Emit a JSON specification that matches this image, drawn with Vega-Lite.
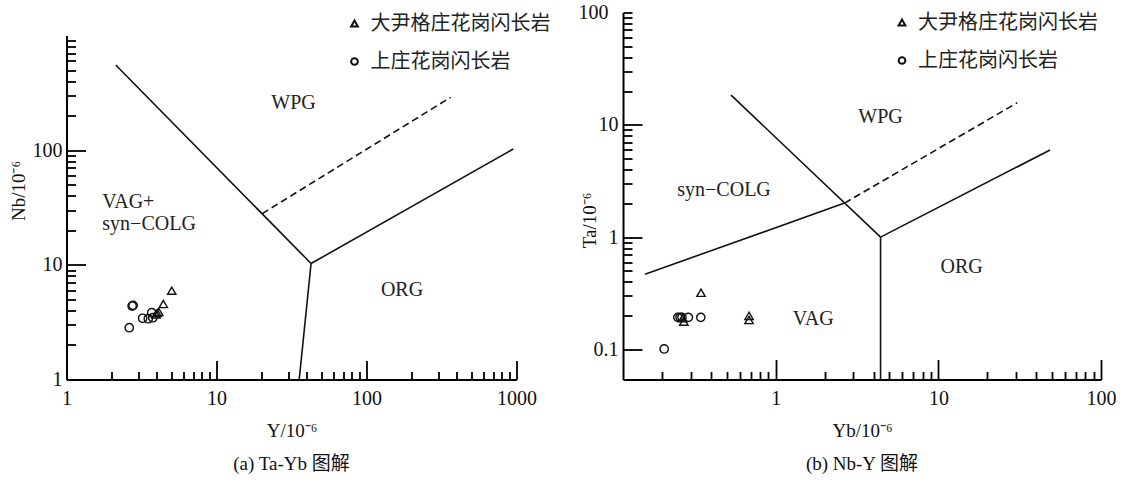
{
  "$schema": "https://vega.github.io/schema/vega-lite/v6.json",
  "background": "white",
  "padding": {"left": 8.5, "top": 2.5, "right": 5, "bottom": 5},
  "bounds": "flush",
  "spacing": 106.5,
  "datasets": {
    "linesA": [
      {"seg": "a", "i": 0, "x": 2.13, "y": 553, "style": "solid"},
      {"seg": "a", "i": 1, "x": 42.7, "y": 10.27, "style": "solid"},
      {"seg": "b", "i": 0, "x": 42.7, "y": 10.27, "style": "solid"},
      {"seg": "b", "i": 1, "x": 952, "y": 102.4, "style": "solid"},
      {"seg": "c", "i": 0, "x": 42.7, "y": 10.27, "style": "solid"},
      {"seg": "c", "i": 1, "x": 35.6, "y": 1, "style": "solid"},
      {"seg": "d", "i": 0, "x": 20.2, "y": 28, "style": "dashed"},
      {"seg": "d", "i": 1, "x": 364, "y": 289, "style": "dashed"}
    ],
    "linesB": [
      {"seg": "a", "i": 0, "x": 0.157, "y": 0.467, "style": "solid"},
      {"seg": "a", "i": 1, "x": 2.65, "y": 2.01, "style": "solid"},
      {"seg": "b", "i": 0, "x": 0.531, "y": 18.4, "style": "solid"},
      {"seg": "b", "i": 1, "x": 4.41, "y": 1.0, "style": "solid"},
      {"seg": "c", "i": 0, "x": 4.41, "y": 1.0, "style": "solid"},
      {"seg": "c", "i": 1, "x": 4.41, "y": 0.054, "style": "solid"},
      {"seg": "d", "i": 0, "x": 4.41, "y": 1.0, "style": "solid"},
      {"seg": "d", "i": 1, "x": 48.6, "y": 5.97, "style": "solid"},
      {"seg": "e", "i": 0, "x": 2.65, "y": 2.01, "style": "dashed"},
      {"seg": "e", "i": 1, "x": 30.5, "y": 15.7, "style": "dashed"}
    ],
    "ptsA": [
      {"group": "上庄花岗闪长岩", "x": 2.62, "y": 2.83},
      {"group": "上庄花岗闪长岩", "x": 2.74, "y": 4.37},
      {"group": "上庄花岗闪长岩", "x": 2.78, "y": 4.43},
      {"group": "上庄花岗闪长岩", "x": 3.22, "y": 3.42},
      {"group": "上庄花岗闪长岩", "x": 3.51, "y": 3.39},
      {"group": "上庄花岗闪长岩", "x": 3.70, "y": 3.82},
      {"group": "上庄花岗闪长岩", "x": 3.76, "y": 3.46},
      {"group": "大尹格庄花岗闪长岩", "x": 3.95, "y": 3.70},
      {"group": "大尹格庄花岗闪长岩", "x": 4.02, "y": 3.80},
      {"group": "大尹格庄花岗闪长岩", "x": 4.12, "y": 3.88},
      {"group": "大尹格庄花岗闪长岩", "x": 4.42, "y": 4.55},
      {"group": "大尹格庄花岗闪长岩", "x": 5.03, "y": 5.95}
    ],
    "ptsB": [
      {"group": "上庄花岗闪长岩", "x": 0.206, "y": 0.101},
      {"group": "上庄花岗闪长岩", "x": 0.25, "y": 0.193},
      {"group": "上庄花岗闪长岩", "x": 0.258, "y": 0.193},
      {"group": "上庄花岗闪长岩", "x": 0.265, "y": 0.193},
      {"group": "上庄花岗闪长岩", "x": 0.29, "y": 0.193},
      {"group": "上庄花岗闪长岩", "x": 0.346, "y": 0.193},
      {"group": "大尹格庄花岗闪长岩", "x": 0.272, "y": 0.177},
      {"group": "大尹格庄花岗闪长岩", "x": 0.268, "y": 0.19},
      {"group": "大尹格庄花岗闪长岩", "x": 0.347, "y": 0.32},
      {"group": "大尹格庄花岗闪长岩", "x": 0.685, "y": 0.199},
      {"group": "大尹格庄花岗闪长岩", "x": 0.685, "y": 0.183}
    ],
    "labA": [
      {"label": "WPG", "x": 32.6, "y": 256, "pos": "center"},
      {"label": "ORG", "x": 172.5, "y": 6.03, "pos": "center"},
      {"label": "VAG+", "x": 1.733, "y": 35.1, "pos": "left"},
      {"label": "syn−COLG", "x": 1.733, "y": 22.7, "pos": "left"}
    ],
    "labB": [
      {"label": "WPG", "x": 4.41, "y": 11.8},
      {"label": "syn−COLG", "x": 0.481, "y": 2.63},
      {"label": "ORG", "x": 13.9, "y": 0.546},
      {"label": "VAG", "x": 1.70, "y": 0.1856}
    ]
  },
  "resolve": {
    "scale": {"x": "independent", "y": "independent", "shape": "independent"},
    "legend": {"shape": "independent"}
  },
  "hconcat": [
    {
      "width": 450,
      "height": 367,
      "title": {"text": "(a) Ta-Yb 图解", "orient": "bottom", "offset": 14},
      "layer": [
        {
          "data": {"name": "linesA"},
          "transform": [{"filter": "datum.style == 'solid'"}],
          "mark": {"type": "line", "color": "#111", "strokeWidth": 1.6},
          "encoding": {
            "x": {
              "field": "x", "type": "quantitative",
              "scale": {"type": "log", "domain": [1, 1000], "nice": false},
              "axis": {
                "title": "Y/10⁻⁶",
                "values": [1,2,3,4,5,6,7,8,9,10,20,30,40,50,60,70,80,90,100,200,300,400,500,600,700,800,900,1000],
                "labelExpr": "indexof([1,10,100,1000], datum.value) >= 0 ? datum.label : ''",
                "tickSize": {"condition": {"test": "indexof([1,10,100,1000], datum.value) >= 0", "value": -19}, "value": -8},
                "labelPadding": 28,
                "titleY": 51, "titleBaseline": "middle"
              }
            },
            "y": {
              "field": "y", "type": "quantitative",
              "scale": {"type": "log", "domain": [1, 1000], "range": [367, 23], "nice": false},
              "axis": {
                "title": "Nb/10⁻⁶",
                "values": [1,2,3,4,5,6,7,8,9,10,20,30,40,50,60,70,80,90,100,200,300,400,500,600,700,800,900],
                "labelExpr": "indexof([1,10,100], datum.value) >= 0 ? datum.label : ''",
                "tickSize": {"condition": {"test": "indexof([1,10,100,1000], datum.value) >= 0", "value": -19}, "value": -9},
                "labelPadding": 23.5,
                "titleX": -48.5, "titleY": 178, "titleAngle": 270, "titleBaseline": "middle", "titleAlign": "center"
              }
            },
            "detail": {"field": "seg"},
            "order": {"field": "i", "type": "quantitative"}
          }
        },
        {
          "data": {"name": "linesA"},
          "transform": [{"filter": "datum.style == 'dashed'"}],
          "mark": {"type": "line", "color": "#111", "strokeWidth": 1.6, "strokeDash": [7, 4]},
          "encoding": {
            "x": {"field": "x", "type": "quantitative"},
            "y": {"field": "y", "type": "quantitative"},
            "detail": {"field": "seg"},
            "order": {"field": "i", "type": "quantitative"}
          }
        },
        {
          "data": {"name": "labA"},
          "transform": [{"filter": "datum.pos == 'center'"}],
          "mark": {"type": "text", "font": "Liberation Serif", "fontSize": 20, "color": "#222", "align": "center", "baseline": "middle"},
          "encoding": {
            "x": {"field": "x", "type": "quantitative"},
            "y": {"field": "y", "type": "quantitative"},
            "text": {"field": "label"}
          }
        },
        {
          "data": {"name": "labA"},
          "transform": [{"filter": "datum.pos == 'left'"}],
          "mark": {"type": "text", "font": "Liberation Serif", "fontSize": 20, "color": "#222", "align": "left", "baseline": "middle"},
          "encoding": {
            "x": {"field": "x", "type": "quantitative"},
            "y": {"field": "y", "type": "quantitative"},
            "text": {"field": "label"}
          }
        },
        {
          "data": {"name": "ptsA"},
          "mark": {"type": "point", "filled": false, "color": "#111", "opacity": 1, "strokeWidth": 1.4, "size": 70},
          "encoding": {
            "x": {"field": "x", "type": "quantitative"},
            "y": {"field": "y", "type": "quantitative"},
            "shape": {
              "field": "group", "type": "nominal",
              "scale": {"domain": ["大尹格庄花岗闪长岩", "上庄花岗闪长岩"], "range": ["triangle-up", "circle"]},
              "legend": {"orient": "none", "legendX": 278, "legendY": 1, "title": null}
            }
          }
        }
      ]
    },
    {
      "width": 478,
      "height": 367,
      "title": {"text": "(b) Nb-Y 图解", "orient": "bottom", "offset": 14},
      "layer": [
        {
          "data": {"name": "linesB"},
          "transform": [{"filter": "datum.style == 'solid'"}],
          "mark": {"type": "line", "color": "#111", "strokeWidth": 1.6},
          "encoding": {
            "x": {
              "field": "x", "type": "quantitative",
              "scale": {"type": "log", "domain": [0.115, 100], "nice": false},
              "axis": {
                "title": "Yb/10⁻⁶",
                "values": [0.2,0.3,0.4,0.5,0.6,0.7,0.8,0.9,1,2,3,4,5,6,7,8,9,10,20,30,40,50,60,70,80,90,100],
                "labelExpr": "indexof([1,10,100], datum.value) >= 0 ? datum.label : ''",
                "tickSize": {"condition": {"test": "indexof([1,10,100], datum.value) >= 0", "value": -20}, "value": -8},
                "labelPadding": 29,
                "titleY": 51, "titleBaseline": "middle"
              }
            },
            "y": {
              "field": "y", "type": "quantitative",
              "scale": {"type": "log", "domain": [0.054, 100], "nice": false},
              "axis": {
                "title": "Ta/10⁻⁶",
                "values": [0.1,0.2,0.3,0.4,0.5,0.6,0.7,0.8,0.9,1,2,3,4,5,6,7,8,9,10,20,30,40,50,60,70,80,90,100],
                "labelExpr": "indexof([0.1,1,10,100], datum.value) >= 0 ? datum.label : ''",
                "tickSize": {"condition": {"test": "indexof([0.1,1,10], datum.value) >= 0", "value": -19}, "value": -9},
                "labelPadding": 24,
                "titleX": -34, "titleY": 207.5, "titleAngle": 270, "titleBaseline": "middle", "titleAlign": "center"
              }
            },
            "detail": {"field": "seg"},
            "order": {"field": "i", "type": "quantitative"}
          }
        },
        {
          "data": {"name": "linesB"},
          "transform": [{"filter": "datum.style == 'dashed'"}],
          "mark": {"type": "line", "color": "#111", "strokeWidth": 1.6, "strokeDash": [7, 4]},
          "encoding": {
            "x": {"field": "x", "type": "quantitative"},
            "y": {"field": "y", "type": "quantitative"},
            "detail": {"field": "seg"},
            "order": {"field": "i", "type": "quantitative"}
          }
        },
        {
          "data": {"name": "labB"},
          "mark": {"type": "text", "font": "Liberation Serif", "fontSize": 20, "color": "#222", "align": "center", "baseline": "middle"},
          "encoding": {
            "x": {"field": "x", "type": "quantitative"},
            "y": {"field": "y", "type": "quantitative"},
            "text": {"field": "label"}
          }
        },
        {
          "data": {"name": "ptsB"},
          "mark": {"type": "point", "filled": false, "color": "#111", "opacity": 1, "strokeWidth": 1.4, "size": 70},
          "encoding": {
            "x": {"field": "x", "type": "quantitative"},
            "y": {"field": "y", "type": "quantitative"},
            "shape": {
              "field": "group", "type": "nominal",
              "scale": {"domain": ["大尹格庄花岗闪长岩", "上庄花岗闪长岩"], "range": ["triangle-up", "circle"]},
              "legend": {"orient": "none", "legendX": 269, "legendY": 0, "title": null}
            }
          }
        }
      ]
    }
  ],
  "config": {
    "view": {"stroke": null},
    "axis": {
      "grid": false,
      "domainColor": "#000",
      "domainWidth": 2,
      "tickColor": "#000",
      "tickWidth": 1.8,
      "labelFont": "Liberation Serif",
      "labelFontSize": 20,
      "labelColor": "#111",
      "labelOverlap": false,
      "labelFlush": false,
      "format": "~g",
      "titleFont": "Liberation Serif",
      "titleFontSize": 19,
      "titleFontWeight": "normal",
      "titleColor": "#111"
    },
    "legend": {
      "labelFont": "Noto Sans CJK SC",
      "labelFontSize": 20,
      "labelColor": "#222",
      "labelLimit": 0,
      "labelOffset": 6,
      "rowPadding": 18,
      "padding": 0,
      "symbolSize": 45,
      "symbolStrokeWidth": 2,
      "symbolOpacity": 1,
      "symbolStrokeColor": "#111",
      "symbolFillColor": "transparent"
    },
    "title": {
      "font": "Liberation Serif, Noto Sans CJK SC",
      "fontSize": 19,
      "fontWeight": "normal",
      "color": "#111",
      "anchor": "middle"
    }
  }
}
